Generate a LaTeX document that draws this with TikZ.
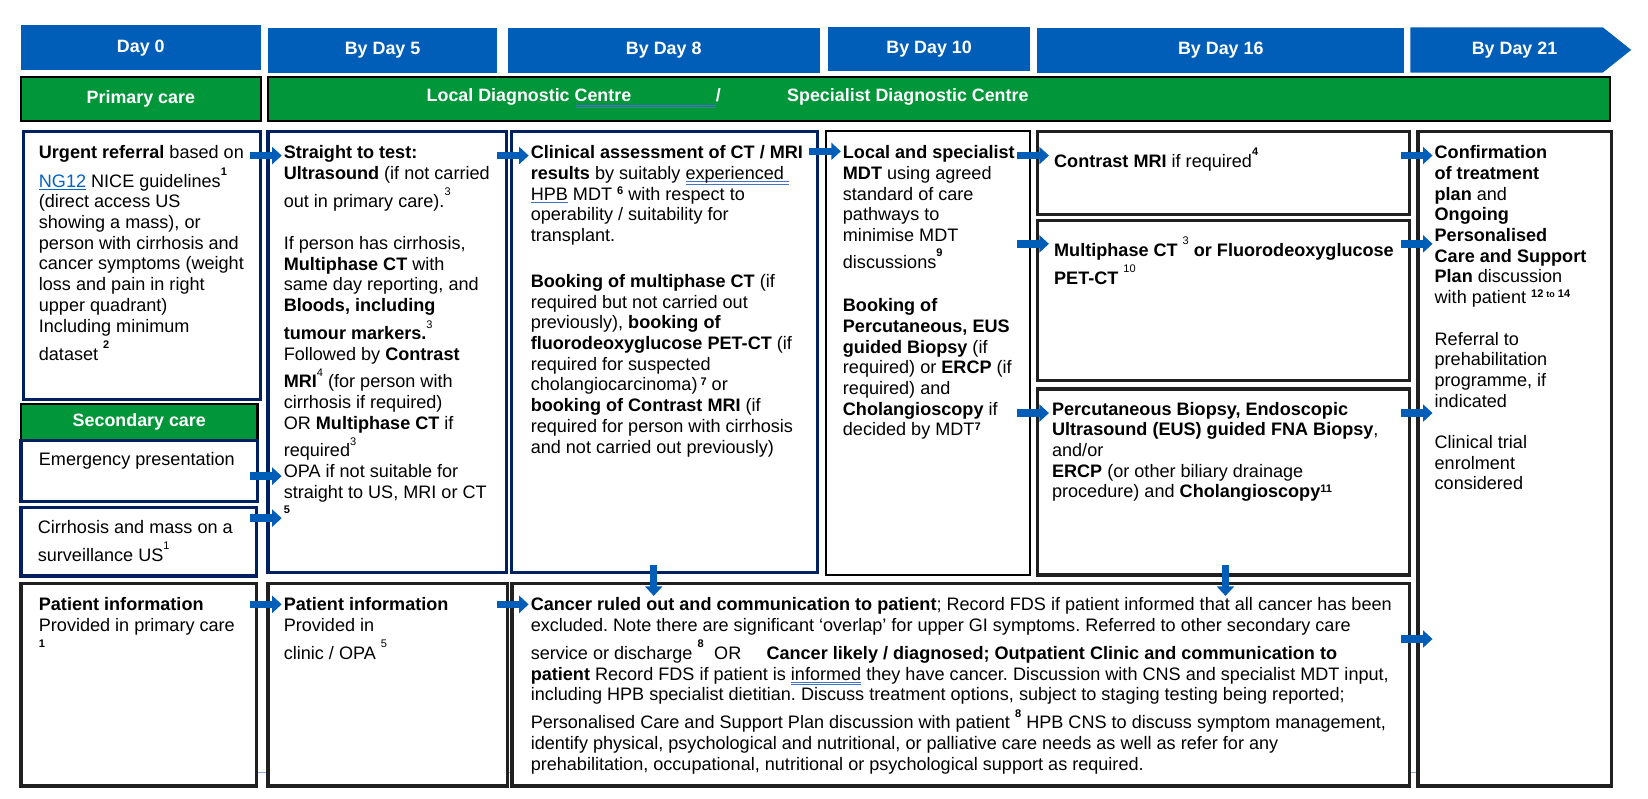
\documentclass[tikz,border=0pt]{standalone}
\usepackage{fontspec}
\setmainfont{Liberation Sans}
\usetikzlibrary{arrows.meta,calc,backgrounds}
\definecolor{hblue}{RGB}{0,94,184}
\definecolor{hgreen}{RGB}{0,150,57}
\definecolor{navy}{RGB}{0,32,96}
\definecolor{dk}{RGB}{32,32,32}
\definecolor{lnk}{RGB}{5,99,193}
\definecolor{ulb}{RGB}{68,114,196}
\newsavebox\ulbx
\newcommand\sul[1]{\sbox\ulbx{#1}\rlap{\color{ulb}\rule[-3.2pt]{\wd\ulbx}{1pt}}\usebox\ulbx}
\newcommand\dul[1]{\sbox\ulbx{#1}\rlap{\color{ulb}\rule[-2.6pt]{\wd\ulbx}{0.8pt}}\rlap{\color{ulb}\rule[-4.8pt]{\wd\ulbx}{0.8pt}}\usebox\ulbx}
\newcommand\hs[1]{\smash{\raisebox{11pt}{\fontsize{10.5}{10.5}\selectfont #1}}}
\newcommand\hsb[1]{\smash{\raisebox{11pt}{\fontsize{10.5}{10.5}\selectfont\bfseries #1}}}
\newcommand\nsb[1]{\raisebox{5.5pt}{\fontsize{10.5}{10.5}\selectfont\bfseries #1}}
\newcommand\fst{\rule{0pt}{14pt}}
\frenchspacing
\begin{document}
\begin{tikzpicture}[x=1pt,y=-1pt,
  hdr/.style={fill=hblue, text=white, font=\fontsize{17}{20}\selectfont\bfseries, anchor=north west, inner sep=0pt, outer sep=0pt},
  gbar/.style={fill=hgreen, draw=black, line width=2pt, text=white, font=\fontsize{17}{20}\selectfont\bfseries, anchor=north west, inner sep=0pt, outer sep=0pt},
  nbox/.style={draw=navy, line width=3pt, fill=white, anchor=north west, inner sep=0pt, outer sep=0pt},
  kbox/.style={draw=dk, line width=3.2pt, fill=white, anchor=north west, inner sep=0pt, outer sep=0pt},
  kthin/.style={kbox, draw=black, line width=2pt},
  txt/.style={anchor=north west, align=left, inner sep=0pt, outer sep=0pt, font=\fontsize{17.2}{19.7}\selectfont},
  wtxt/.style={anchor=base west, inner sep=0pt, outer sep=0pt, text=white, font=\fontsize{17}{20}\selectfont\bfseries},
  barrow/.style={draw=hblue, line width=7pt, -{Triangle[length=9pt,width=16pt]}}]
\useasboundingbox (0,0) rectangle (1568,760);

% header row
\node[hdr, minimum width=228pt, minimum height=43pt] (h0) at (20,24) {Day 0};
\node[hdr, minimum width=218pt, minimum height=42pt] (h5) at (255,27) {By Day 5};
\node[hdr, minimum width=297pt, minimum height=42pt] (h8) at (483,27) {By Day 8};
\node[hdr, minimum width=192pt, minimum height=42pt] (h10) at (788,26) {By Day 10};
\node[hdr, minimum width=349pt, minimum height=42pt] (h16) at (987,27) {By Day 16};
\fill[hblue] (1342,26) -- (1525,26) -- (1552,47.5) -- (1525,69) -- (1342,69) -- cycle;
\node[text=white, font=\fontsize{17}{20}\selectfont\bfseries, inner sep=0pt] (h21) at (1441,47.5) {By Day 21};

% green bars
\node[gbar, minimum width=228pt, minimum height=42pt] (prim) at (20,73) {Primary care};
\node[gbar, minimum width=1277pt, minimum height=42pt] (ldc) at (255,73) {};
\node[wtxt] (ldct) at (406,97) {Local Diagnostic Centre};
\node[wtxt] (slash) at (681,97) {/};
\node[wtxt] (sdct) at (749,97) {Specialist Diagnostic Centre};
\draw[ulb, line width=0.8pt] ($(ldct.base west)+(142,3)$) -- ($(slash.base west)+(0,3)$);
\draw[ulb, line width=0.8pt] ($(ldct.base west)+(142,5)$) -- ($(slash.base west)+(0,5)$);

% boxes
\node[nbox, minimum width=226pt, minimum height=255pt] (ur) at (22,125) {};
\node[nbox, minimum width=227pt, minimum height=420pt] (st) at (255,125) {};
\node[nbox, minimum width=291pt, minimum height=420pt] (cl) at (487,125) {};
\node[kthin, minimum width=194pt, minimum height=422pt] (lo) at (786,125) {};
\node[kbox, minimum width=354pt, minimum height=79pt] (cm) at (987,125) {};
\node[kbox, minimum width=354pt, minimum height=152pt] (mp) at (987,210) {};
\node[kbox, minimum width=354pt, minimum height=177pt] (perc) at (987,370) {};
\node[kbox, minimum width=184pt, minimum height=623pt] (cf) at (1349,125) {};
\node[gbar, minimum width=225pt, minimum height=35pt] (sc) at (20,384) {Secondary care};
\node[nbox, minimum width=225pt, minimum height=58pt] (em) at (20,419) {};
\node[nbox, minimum width=224pt, minimum height=65pt] (ci) at (20,483) {};
\node[kbox, minimum width=224pt, minimum height=193pt] (p1) at (20,555) {};
\node[kbox, minimum width=228pt, minimum height=193pt] (p2) at (255,555) {};
\node[kbox, minimum width=854pt, minimum height=193pt] (bg) at (487,555) {};

\begin{pgfonlayer}{background}
\draw[ulb!60, line width=0.8pt] ($(p1.south east)+(0,-13)$) -- ($(cf.south west)+(0,-13)$);
\end{pgfonlayer}

% texts
\node[txt] (urt) at (37,137) {\fst\textbf{Urgent referral} based on\\[7.3pt]
\textcolor{lnk}{\underline{NG12}} NICE guidelines\hsb{1}\\
(direct access US\\
showing a mass), or\\
person with cirrhosis and\\
cancer symptoms (weight\\
loss and pain in right\\
upper quadrant)\\
Including minimum\\[7.3pt]
dataset \hsb{2}};

\node[txt] (stt) at (270,137) {\fst\textbf{Straight to test:}\\
\textbf{Ultrasound} (if not carried\\[7pt]
out in primary care).\hs{3}\\[20.3pt]
If person has cirrhosis,\\
\textbf{Multiphase CT} with\\
same day reporting, and\\
\textbf{Bloods, including}\\[7pt]
\textbf{tumour markers.}\hs{3}\\
Followed by \textbf{Contrast}\\[6.5pt]
\textbf{MRI}\hs{4} (for person with\\
cirrhosis if required)\\
OR \textbf{Multiphase CT} if\\[6.5pt]
required\hs{3}\\
OPA if not suitable for\\
straight to US, MRI or CT\\
\raisebox{5.5pt}{\fontsize{10.5}{10.5}\selectfont\bfseries 5}};

\node[txt] (clt) at (505,137) {\fst\textbf{Clinical assessment of CT / MRI}\\
\textbf{results} by suitably \dul{experienced\ }\\
\sul{HPB} MDT \nsb{6} with respect to\\
operability / suitability for\\
transplant.\\[24pt]
\textbf{Booking of multiphase CT} (if\\
required but not carried out\\
previously), \textbf{booking of}\\
\textbf{fluorodeoxyglucose PET-CT} (if\\
required for suspected\\
cholangiocarcinoma)\,\nsb{7} or\\
\textbf{booking of Contrast MRI} (if\\
required for person with cirrhosis\\
and not carried out previously)};

\node[txt] (lot) at (802,137) {\fst\textbf{Local and specialist}\\
\textbf{MDT} using agreed\\
standard of care\\
pathways to\\
minimise MDT\\[6pt]
discussions\hsb{9}\\[21.3pt]
\textbf{Booking of}\\
\textbf{Percutaneous, EUS}\\
\textbf{guided Biopsy} (if\\
required) or \textbf{ERCP} (if\\
required) and\\
\textbf{Cholangioscopy} if\\
decided by MDT\nsb{7}};

\node[txt] (cmt) at (1003,145) {\fst\textbf{Contrast MRI} if required\hsb{4}};

\node[txt] (mpt) at (1003,230) {\fst\textbf{Multiphase CT} \hs{3} \textbf{or Fluorodeoxyglucose}\\[7pt]
\textbf{PET-CT} \hs{10}};

\node[txt] (pct) at (1001,381) {\fst\textbf{Percutaneous Biopsy, Endoscopic}\\
\textbf{Ultrasound (EUS) guided FNA Biopsy},\\
and/or\\
\textbf{ERCP} (or other biliary drainage\\
procedure) and \textbf{Cholangioscopy}\nsb{11}};

\node[txt] (cft) at (1365,137) {\fst\textbf{Confirmation}\\
\textbf{of treatment}\\
\textbf{plan} and\\
\textbf{Ongoing}\\
\textbf{Personalised}\\
\textbf{Care and Support}\\
\textbf{Plan} discussion\\
with patient \nsb{12 {\fontsize{8.5}{8.5}\selectfont to} 14}\\[19.7pt]
Referral to\\
prehabilitation\\
programme, if\\
indicated\\[19.7pt]
Clinical trial\\
enrolment\\
considered};

\node[txt] (emt) at (37,429) {\fst Emergency presentation};
\node[txt] (cit) at (36,494) {\fst Cirrhosis and mass on a\\[6.5pt]
surveillance US\hs{1}};

\node[txt] (p1t) at (37,567) {\fst\textbf{Patient information}\\
Provided in primary care\\[-4pt]
{\fontsize{10.5}{10.5}\selectfont\bfseries 1}};

\node[txt] (p2t) at (270,567) {\fst\textbf{Patient information}\\
Provided in\\[7pt]
clinic / OPA \hs{5}};

\node[txt] (bgt) at (505,567) {\fst\textbf{Cancer ruled out and communication to patient}; Record FDS if patient informed that all cancer has been\\
excluded. Note there are significant ‘overlap’ for upper GI symptoms. Referred to other secondary care\\[7pt]
service or discharge \hsb{8}\hspace{10pt}OR\hspace{24pt}\textbf{Cancer likely / diagnosed; Outpatient Clinic and communication to}\\
\textbf{patient} Record FDS if patient is \dul{informed} they have cancer. Discussion with CNS and specialist MDT input,\\
including HPB specialist dietitian. Discuss treatment options, subject to staging testing being reported;\\[7pt]
Personalised Care and Support Plan discussion with patient \hsb{8} HPB CNS to discuss symptom management,\\
identify physical, psychological and nutritional, or palliative care needs as well as refer for any\\
prehabilitation, occupational, nutritional or psychological support as required.};

% arrows
\draw[barrow] ($(ur.north east)+(-10,23)$) -- ($(st.north west)+(13,23)$);
\draw[barrow] ($(st.north east)+(-9,23)$) -- ($(cl.north west)+(16,23)$);
\draw[barrow] ($(cl.north east)+(-8,19)$) -- ($(lo.north west)+(14,19)$);
\draw[barrow] ($(lo.north east)+(-12,23)$) -- ($(cm.north west)+(11,23)$);
\draw[barrow] ($(lo.north east)+(-12,107)$) -- ($(mp.north west)+(11,22)$);
\draw[barrow] ($(lo.north east)+(-12,268)$) -- ($(perc.north west)+(11,23)$);
\draw[barrow] ($(cm.north east)+(-8,23)$) -- ($(cf.north west)+(14,23)$);
\draw[barrow] ($(mp.north east)+(-8,22)$) -- ($(cf.north west)+(14,107)$);
\draw[barrow] ($(perc.north east)+(-8,23)$) -- ($(cf.north west)+(14,268)$);
\draw[barrow] ($(em.north east)+(-7,34)$) -- ($(st.north west)+(13,328)$);
\draw[barrow] ($(ci.north east)+(-6,10)$) -- ($(st.north west)+(13,368)$);
\draw[barrow] ($(p1.north east)+(-6,20)$) -- ($(p2.north west)+(13,20)$);
\draw[barrow] ($(p2.north east)+(-10,20)$) -- ($(bg.north west)+(16,20)$);
\draw[barrow] ($(bg.north east)+(-8,53)$) -- ($(cf.north west)+(14,483)$);
\draw[barrow] ($(cl.south west)+(135,-7)$) -- ($(bg.north west)+(135,12)$);
\draw[barrow] ($(perc.south west)+(179,-9)$) -- ($(bg.north west)+(679,12)$);
\end{tikzpicture}
\end{document}
